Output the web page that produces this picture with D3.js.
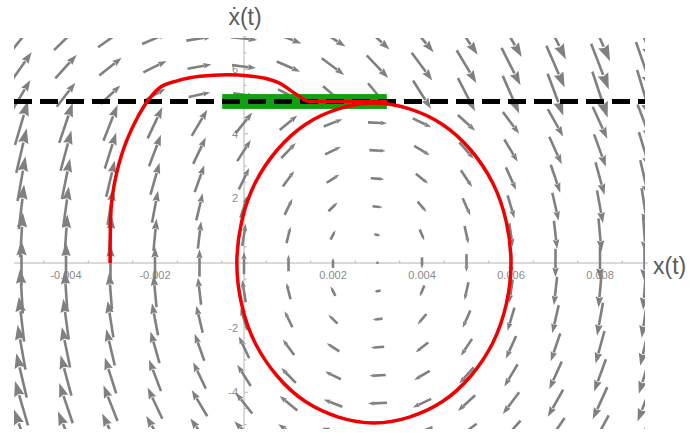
<!DOCTYPE html>
<html><head><meta charset="utf-8">
<script src="https://cdn.jsdelivr.net/npm/d3@7"></script>
<style>body{margin:0;background:#fff} svg{display:block}</style>
</head><body><svg id="c" width="693" height="433"></svg>
<script>
// ---- data ----
const xTicks = [-0.004, -0.002, 0.002, 0.004, 0.006, 0.008];
const xTickLabels = ["-0.004", "-0.002", "0.002", "0.004", "0.006", "0.008"];
const yTicks = [-4, -2, 2, 4, 6];
const yTickLabels = ["-4", "-2", "2", "4", "6"];
// vector-field sample points
const xGrid = [-0.005, -0.004, -0.003, -0.002, -0.001, 0, 0.001, 0.002, 0.003, 0.004, 0.005, 0.006, 0.007, 0.008, 0.009];
const yGrid = [-5.21, -4.34, -3.48, -2.61, -1.74, -0.87, 0, 0.87, 1.74, 2.61, 3.48, 4.34, 5.21, 6.08, 6.95];
// stick-slip oscillator model shown by the arrows
const beltVelocity = 5;
const omegaSq = 2.58e6;
const equilibriumBelow = 0.0029;
const equilibriumAbove = -0.0004;
// red trajectory (x in units of 1e-3)
const lowerArmX = [-3.01, -3.0, -2.86, -2.63, -2.40, -2.18];
const lowerArmY = [0, 1.3, 2.8, 3.81, 4.49, 5.0];
const upperArmX = [-2.18, -1.92, -1.50, -0.99, -0.38, 0.13, 0.47, 0.81, 1.10, 1.42];
const upperArmY = [5.0, 5.40, 5.64, 5.78, 5.83, 5.79, 5.72, 5.56, 5.29, 5.0];
const stickX = [1.42, 3.22];
const stickY = [5.0, 5.0];
const cycleX = [2.92, 4.46, 5.59, 6.0, 5.59, 4.46, 2.92, 1.38, 0.25, -0.16, 0.25, 1.38];
const cycleY = [4.95, 4.29, 2.475, 0, -2.475, -4.29, -4.95, -4.29, -2.475, 0, 2.475, 4.29];
// green sticking zone
const stickZoneX = [-0.00049, 0.00321];
const stickZoneHalfHeight = 0.23;

// ---- layout ----
const svg = d3.select("#c");
const x = d3.scaleLinear().domain([-0.005, 0.009]).range([21.5, 644.5]);
const y = d3.scaleLinear().domain([0, 5]).range([263, 101.5]);
const plotL = 14, plotR = 645, plotT = 38, plotB = 429;
const fontF = "'Liberation Sans', Arial, 'DejaVu Sans', sans-serif";

svg.append("defs").append("clipPath").attr("id", "clip")
  .append("rect").attr("x", plotL).attr("y", plotT).attr("width", plotR - plotL).attr("height", plotB - plotT);

// ---- axes ----
const axCol = "#b4b4b4";
const ax = svg.append("g");
ax.append("line").attr("x1", plotL).attr("x2", 648).attr("y1", y(0)).attr("y2", y(0)).attr("stroke", axCol).attr("stroke-width", 1);
ax.append("line").attr("x1", x(0)).attr("x2", x(0)).attr("y1", plotT - 2).attr("y2", plotB).attr("stroke", axCol).attr("stroke-width", 1);
const xMinor = d3.range(-0.005, 0.00901, 0.0005);
xMinor.forEach(v => {
  const major = Math.abs(Math.round(v / 0.002) * 0.002 - v) < 1e-9;
  ax.append("line").attr("x1", x(v)).attr("x2", x(v)).attr("y1", y(0)).attr("y2", y(0) - (major ? 4 : 2.5))
    .attr("stroke", axCol).attr("stroke-width", 1);
});
const yMinor = d3.range(-5, 7.01, 0.5);
yMinor.forEach(v => {
  const major = Math.abs(Math.round(v / 2) * 2 - v) < 1e-9;
  ax.append("line").attr("x1", x(0)).attr("x2", x(0) + (major ? 4 : 2.5)).attr("y1", y(v)).attr("y2", y(v))
    .attr("stroke", axCol).attr("stroke-width", 1);
});
xTicks.forEach((v, i) => {
  ax.append("text").attr("x", x(v)).attr("y", y(0) + 16).attr("text-anchor", "middle")
    .attr("font-family", fontF).attr("font-size", 11).attr("fill", "#8a8a8a").text(xTickLabels[i]);
});
yTicks.forEach((v, i) => {
  ax.append("text").attr("x", x(0) - 6).attr("y", y(v) + 4).attr("text-anchor", "end")
    .attr("font-family", fontF).attr("font-size", 11).attr("fill", "#8a8a8a").text(yTickLabels[i]);
});
svg.append("text").attr("x", x(0) + 1).attr("y", 25).attr("text-anchor", "middle")
  .attr("font-family", fontF).attr("font-size", 23).attr("fill", "#5a5a5a").text("\u1E8B(t)");
svg.append("text").attr("x", 653).attr("y", 274).attr("text-anchor", "start")
  .attr("font-family", fontF).attr("font-size", 23).attr("fill", "#5a5a5a").text("x(t)");

// ---- vector field ----
const sx = (x(0.001) - x(0)) / 0.001;
const sy = (y(0) - y(1));
const magRef = 193000, lenRef = 19;
const fieldG = svg.append("g").attr("clip-path", "url(#clip)");
xGrid.forEach(gx => yGrid.forEach(gv => {
  const xe = gv > beltVelocity ? equilibriumAbove : equilibriumBelow;
  const vx = gv, vv = -omegaSq * (gx - xe);
  const px = vx * sx, py = -vv * sy;
  const m = Math.hypot(px, py);
  if (m < 1) return;
  let L = lenRef * Math.pow(m / magRef, 0.7);
  L = Math.min(L, 52);
  const ux = px / m, uy = py / m;
  const cx = x(gx), cy = y(gv);
  const tx = cx - ux * L / 2, ty = cy - uy * L / 2;
  const hx = cx + ux * L / 2, hy = cy + uy * L / 2;
  const hl = L * 0.33, hw = L * 0.115;
  const bx = hx - ux * hl, by = hy - uy * hl;
  fieldG.append("line").attr("x1", tx).attr("y1", ty).attr("x2", bx + ux * 0.5).attr("y2", by + uy * 0.5)
    .attr("stroke", "#808080").attr("stroke-width", 2.6).attr("stroke-linecap", "butt");
  if (L > 4) {
    fieldG.append("path")
      .attr("d", `M${hx},${hy}L${bx - uy * hw},${by + ux * hw}L${bx + ux * hl * 0.12},${by + uy * hl * 0.12}L${bx + uy * hw},${by - ux * hw}Z`)
      .attr("fill", "#808080");
  }
}));

// ---- overlays ----
const over = svg.append("g").attr("clip-path", "url(#clip)");
over.append("rect").attr("x", x(stickZoneX[0])).attr("width", x(stickZoneX[1]) - x(stickZoneX[0]))
  .attr("y", y(beltVelocity + stickZoneHalfHeight)).attr("height", y(beltVelocity - stickZoneHalfHeight) - y(beltVelocity + stickZoneHalfHeight))
  .attr("fill", "#12a012");
over.append("line").attr("x1", plotL).attr("x2", plotR).attr("y1", y(beltVelocity)).attr("y2", y(beltVelocity))
  .attr("stroke", "#000").attr("stroke-width", 5).attr("stroke-dasharray", "18,8");

const red = "#f00000";
const pts = (xs, ys) => xs.map((v, i) => [v * 1e-3, ys[i]]);
over.append("path").attr("d", d3.line().x(d => x(d[0])).y(d => y(d[1])).curve(d3.curveMonotoneY)(pts(lowerArmX, lowerArmY)))
  .attr("fill", "none").attr("stroke", red).attr("stroke-width", 3.5);
over.append("path").attr("d", d3.line().x(d => x(d[0])).y(d => y(d[1])).curve(d3.curveMonotoneX)(pts(upperArmX, upperArmY)))
  .attr("fill", "none").attr("stroke", red).attr("stroke-width", 3.5).attr("stroke-linejoin", "round");
over.append("path").attr("d", d3.line().x(d => x(d[0])).y(d => y(d[1]))(pts(stickX, stickY)))
  .attr("fill", "none").attr("stroke", red).attr("stroke-width", 3.5);
over.append("path").attr("d", d3.line().x(d => x(d[0])).y(d => y(d[1])).curve(d3.curveCatmullRomClosed)(pts(cycleX, cycleY)))
  .attr("fill", "none").attr("stroke", red).attr("stroke-width", 3.5);
</script></body></html>
